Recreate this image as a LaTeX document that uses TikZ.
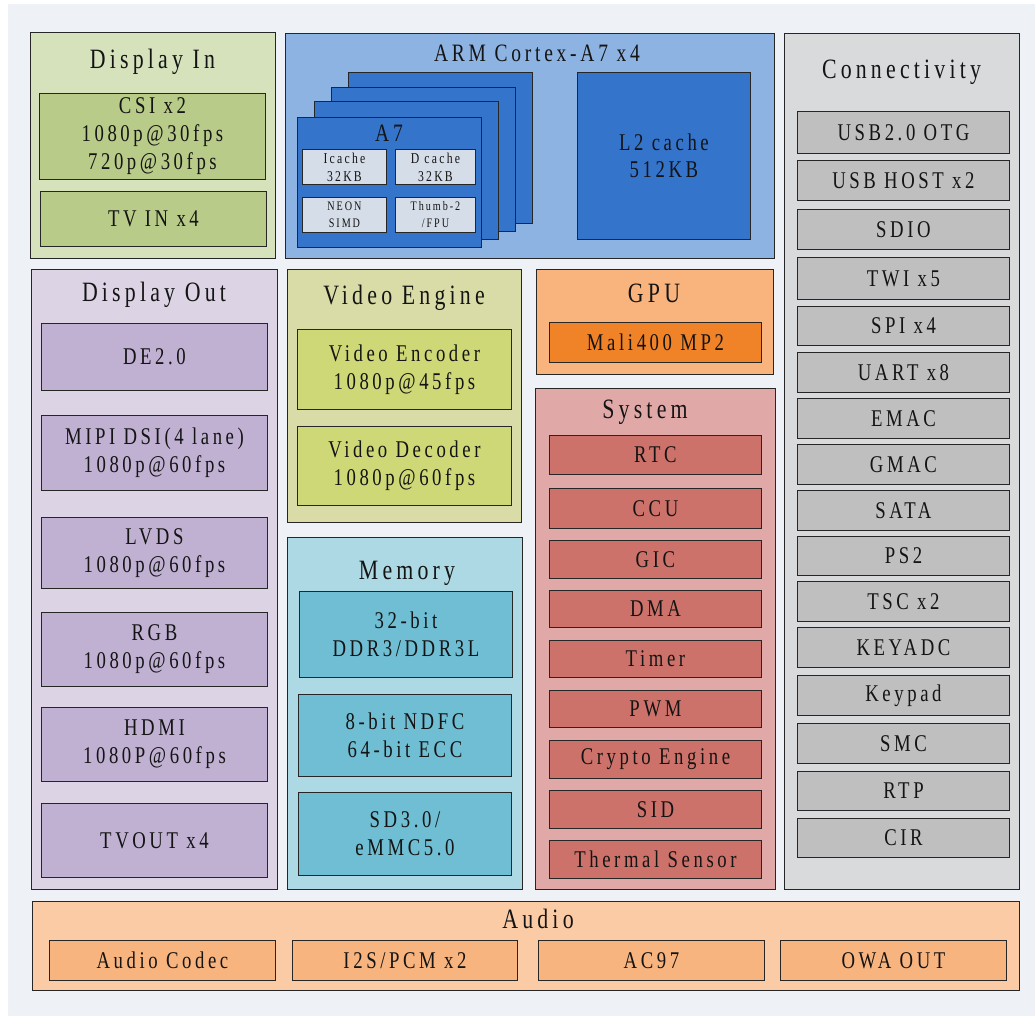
\documentclass[tikz,border=0pt]{standalone}
\usepackage{fontspec}
\setmainfont{Liberation Serif}[FakeStretch=0.78, LetterSpace=15]
\newcommand\ttlfont{\fontsize{28}{32}\selectfont}
\newcommand\itmfont{\fontsize{24}{28}\selectfont}
\newcommand\smfont{\fontsize{15}{18}\selectfont}
\newcommand\tnfont{\fontsize{13}{17}\selectfont}
\definecolor{bgc}{HTML}{EEF1F6}
\definecolor{dinO}{HTML}{D6E2BC}\definecolor{dinI}{HTML}{B9CB88}
\definecolor{armO}{HTML}{8DB3E2}\definecolor{armC}{HTML}{3474CB}\definecolor{armK}{HTML}{D5DDE8}
\definecolor{doutO}{HTML}{DCD4E4}\definecolor{doutI}{HTML}{C0B1D3}
\definecolor{vidO}{HTML}{D9DCA6}\definecolor{vidI}{HTML}{CED876}
\definecolor{gpuO}{HTML}{F8B47C}\definecolor{gpuI}{HTML}{F08228}
\definecolor{sysO}{HTML}{E0A9A8}\definecolor{sysI}{HTML}{CD726A}
\definecolor{memO}{HTML}{ADD9E4}\definecolor{memI}{HTML}{6FBED3}
\definecolor{conO}{HTML}{D9DADC}\definecolor{conI}{HTML}{BFBFBF}
\definecolor{audO}{HTML}{FBCBA5}\definecolor{audI}{HTML}{F8B47E}
\tikzset{
  blk/.style={draw=black!85, line width=0.9pt, anchor=north west, inner sep=0pt,
    align=center, font=\itmfont, text=black!92},
  ttl/.style={font=\ttlfont, text=black!92, inner sep=0pt, anchor=center},
}
\newcommand\blkbox[7][]{\node[blk,#1,minimum width={#5-#3},minimum height={#6-#4}] (#2) at (#3,#4) {#7};}
\begin{document}
\begin{tikzpicture}[x=1pt,y=-1pt]
\useasboundingbox (0,0) rectangle (1035,1016);
\fill[white] (0,0) rectangle (1035,1016);
\fill[bgc] (8,4) rectangle (1035,1016);

% ---- Display In
\blkbox[fill=dinO]{din}{30}{32}{275}{258}{}
\node[ttl] (dinT) at (152.5,62) {Display In};
\blkbox[fill=dinI]{csi}{39}{93}{265}{179}{CSI x2\\1080p@30fps\\720p@30fps}
\blkbox[fill=dinI]{tvin}{40}{191}{266}{246}{TV IN x4}

% ---- ARM
\blkbox[fill=armO]{arm}{285}{33}{774}{258}{}
\node[ttl,font=\fontsize{25}{28}\selectfont] (armT) at (537,53) {ARM Cortex-A7 x4};
\blkbox[fill=armC]{c4}{348}{72}{532}{223}{}
\blkbox[fill=armC]{c3}{331}{87}{515}{231}{}
\blkbox[fill=armC]{c2}{314}{101}{498}{239}{}
\blkbox[fill=armC]{a7}{297}{117}{481}{247}{}
\node[ttl,font=\fontsize{25}{28}\selectfont] (a7T) at (389,133) {A7};
\blkbox[fill=armK,font=\smfont]{ic}{302}{149}{386}{184}{Icache\\32KB}
\blkbox[fill=armK,font=\smfont]{dc}{395}{149}{475}{184}{D cache\\32KB}
\blkbox[fill=armK,font=\tnfont]{neon}{302}{197}{386}{232}{NEON\\SIMD}
\blkbox[fill=armK,font=\tnfont]{thumb}{395}{197}{475}{232}{Thumb-2\\/FPU}
\blkbox[fill=armC,font=\fontsize{24}{27}\selectfont]{l2}{577}{72}{750}{239}{L2 cache\\512KB}

% ---- Connectivity
\blkbox[fill=conO]{con}{784}{33}{1019}{889}{}
\node[ttl] (conT) at (901.5,72) {Connectivity};
\blkbox[fill=conI]{usbotg}{797}{111}{1009}{153}{USB2.0 OTG}
\blkbox[fill=conI]{usbh}{797}{160}{1009}{200}{USB HOST x2}
\blkbox[fill=conI]{sdio}{797}{209}{1009}{249}{SDIO}
\blkbox[fill=conI]{twi}{797}{257}{1009}{299}{TWI x5}
\blkbox[fill=conI]{spi}{797}{306}{1009}{345}{SPI x4}
\blkbox[fill=conI]{uart}{797}{352}{1009}{392}{UART x8}
\blkbox[fill=conI]{emac}{797}{398}{1009}{438}{EMAC}
\blkbox[fill=conI]{gmac}{797}{444}{1009}{484}{GMAC}
\blkbox[fill=conI]{sata}{797}{490}{1009}{530}{SATA}
\blkbox[fill=conI]{ps2}{797}{536}{1009}{575}{PS2}
\blkbox[fill=conI]{tsc}{797}{581}{1009}{621}{TSC x2}
\blkbox[fill=conI]{keyadc}{797}{627}{1009}{667}{KEYADC}
\blkbox[fill=conI]{keypad}{797}{675}{1009}{715}{Keypad}
\blkbox[fill=conI]{smc}{797}{723}{1009}{763}{SMC}
\blkbox[fill=conI]{rtp}{797}{771}{1009}{810}{RTP}
\blkbox[fill=conI]{cir}{797}{818}{1009}{857}{CIR}

% ---- Display Out
\blkbox[fill=doutO]{dout}{31}{269}{277}{889}{}
\node[ttl] (doutT) at (154,295) {Display Out};
\blkbox[fill=doutI]{de}{41}{323}{267}{390}{DE2.0}
\blkbox[fill=doutI]{mipi}{41}{415}{267}{490}{MIPI DSI(4 lane)\\1080p@60fps}
\blkbox[fill=doutI]{lvds}{41}{517}{267}{588}{LVDS\\1080p@60fps}
\blkbox[fill=doutI]{rgb}{41}{612}{267}{686}{RGB\\1080p@60fps}
\blkbox[fill=doutI]{hdmi}{41}{707}{267}{781}{HDMI\\1080P@60fps}
\blkbox[fill=doutI]{tvout}{41}{803}{267}{877}{TVOUT x4}

% ---- Video Engine
\blkbox[fill=vidO]{vid}{287}{269}{521}{522}{}
\node[ttl] (vidT) at (404,298) {Video Engine};
\blkbox[fill=vidI]{venc}{297}{329}{511}{409}{Video Encoder\\1080p@45fps}
\blkbox[fill=vidI]{vdec}{297}{426}{511}{505}{Video Decoder\\1080p@60fps}

% ---- Memory
\blkbox[fill=memO]{mem}{287}{537}{522}{889}{}
\node[ttl] (memT) at (407,573) {Memory};
\blkbox[fill=memI]{ddr}{299}{591}{512}{677}{32-bit\\DDR3/DDR3L}
\blkbox[fill=memI]{ndfc}{298}{694}{511}{776}{8-bit NDFC\\64-bit ECC}
\blkbox[fill=memI]{sd}{298}{792}{511}{875}{SD3.0/\\eMMC5.0}

% ---- GPU
\blkbox[fill=gpuO]{gpu}{536}{269}{773}{374}{}
\node[ttl] (gpuT) at (654,293) {GPU};
\blkbox[fill=gpuI]{mali}{549}{322}{761}{362}{Mali400 MP2}

% ---- System
\blkbox[fill=sysO]{sys}{535}{388}{775}{889}{}
\node[ttl] (sysT) at (645,412) {System};
\blkbox[fill=sysI]{rtc}{549}{435}{761}{474}{RTC}
\blkbox[fill=sysI]{ccu}{549}{488}{761}{528}{CCU}
\blkbox[fill=sysI]{gic}{549}{540}{761}{578}{GIC}
\blkbox[fill=sysI]{dma}{549}{590}{761}{627}{DMA}
\blkbox[fill=sysI]{timer}{549}{640}{761}{677}{Timer}
\blkbox[fill=sysI]{pwm}{549}{690}{761}{727}{PWM}
\blkbox[fill=sysI]{crypto}{549}{740}{761}{778}{Crypto Engine}
\blkbox[fill=sysI]{sid}{549}{790}{761}{828}{SID}
\blkbox[fill=sysI]{therm}{549}{840}{761}{878}{Thermal Sensor}

% ---- Audio
\blkbox[fill=audO]{aud}{32}{901}{1019}{990}{}
\node[ttl] (audT) at (538,919) {Audio};
\blkbox[fill=audI]{codec}{49}{940}{275}{980}{Audio Codec}
\blkbox[fill=audI]{i2s}{292}{940}{517}{980}{I2S/PCM x2}
\blkbox[fill=audI]{ac97}{538}{940}{764}{980}{AC97}
\blkbox[fill=audI]{owa}{780}{940}{1006}{980}{OWA OUT}
\end{tikzpicture}
\end{document}
